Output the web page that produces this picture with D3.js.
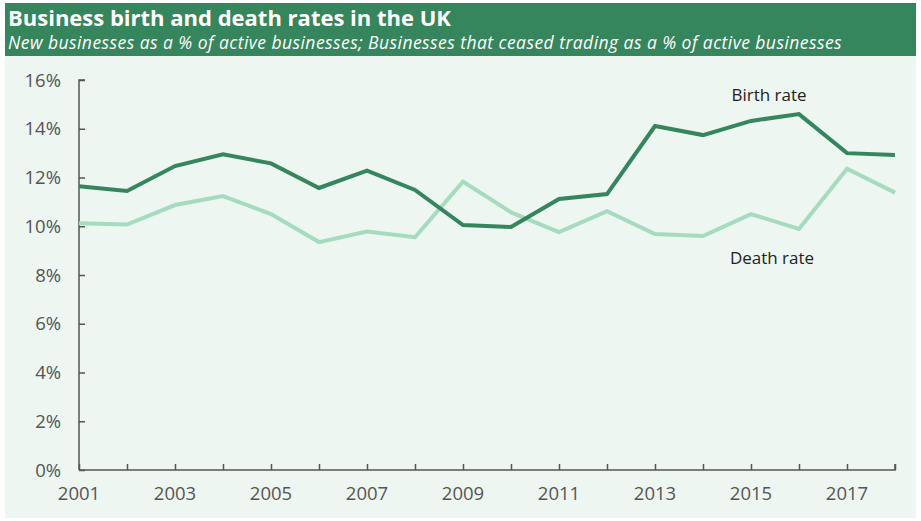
<!DOCTYPE html>
<html><head><meta charset="utf-8">
<script src="https://cdn.jsdelivr.net/npm/d3@7"></script>
<style>
body{margin:0;background:#fff;}
svg{display:block;font-family:"Open Sans","Noto Sans",sans-serif;}
</style></head><body>
<svg id="c" width="921" height="521"></svg>
<script>
const years = [2001,2002,2003,2004,2005,2006,2007,2008,2009,2010,2011,2012,2013,2014,2015,2016,2017,2018];
const birthRate = [11.64,11.45,12.47,12.95,12.58,11.57,12.28,11.49,10.05,9.97,11.12,11.32,14.11,13.74,14.32,14.6,13.0,12.92];
const deathRate = [10.12,10.07,10.87,11.24,10.5,9.35,9.78,9.55,11.83,10.57,9.76,10.62,9.68,9.6,10.5,9.89,12.36,11.38];
const yTicks = [0,2,4,6,8,10,12,14,16];
const xTickLabels = [2001,2003,2005,2007,2009,2011,2013,2015,2017];

const svg = d3.select("#c");
svg.append("rect").attr("x",5).attr("y",3).attr("width",911).attr("height",53).attr("fill","#35855d");
svg.append("rect").attr("x",5).attr("y",56).attr("width",911).attr("height",462).attr("fill","#edf6f1");
svg.append("text").attr("x",8).attr("y",26).attr("fill","#fff").attr("font-size",22).attr("font-weight","bold")
  .text("Business birth and death rates in the UK");
svg.append("text").attr("x",8).attr("y",49).attr("fill","#fff").attr("font-size",17.5).attr("font-style","italic")
  .attr("letter-spacing",0.45)
  .text("New businesses as a % of active businesses; Businesses that ceased trading as a % of active businesses");

const x = d3.scaleLinear().domain([2001,2018]).range([79,895]);
const y = d3.scaleLinear().domain([0,16]).range([470,80]);

const yAxis = svg.append("g").attr("transform","translate(79,0)")
  .call(d3.axisRight(y).tickValues(yTicks).tickSize(6).tickFormat(""));
const xAxis = svg.append("g").attr("transform","translate(0,470)")
  .call(d3.axisTop(x).tickValues(years).tickSize(6).tickFormat(""));
[yAxis,xAxis].forEach(g=>{g.selectAll("path,line").attr("stroke","#555").attr("stroke-width",1.5);});
yAxis.select(".domain").attr("d","M6,80H0V470");
xAxis.select(".domain").attr("d","M79,470H895V464").attr("transform","translate(0,-470)");

svg.append("g").selectAll("text").data(yTicks).join("text")
  .attr("x",61).attr("y",d=>y(d)+6.5).attr("text-anchor","end").attr("fill","#555").attr("font-size",18.5)
  .text(d=>d+"%");
svg.append("g").selectAll("text").data(xTickLabels).join("text")
  .attr("x",d=>x(d)).attr("y",500).attr("text-anchor","middle").attr("fill","#555").attr("font-size",18.5)
  .text(d=>d);

const line = d3.line().x((d,i)=>x(years[i])).y(d=>y(d));
svg.append("path").datum(deathRate).attr("d",line).attr("fill","none").attr("stroke","#a5dbbe").attr("stroke-width",4);
svg.append("path").datum(birthRate).attr("d",line).attr("fill","none").attr("stroke","#35855d").attr("stroke-width",4);

svg.append("text").attr("x",769).attr("y",101).attr("text-anchor","middle").attr("fill","#222").attr("font-size",17).text("Birth rate");
svg.append("text").attr("x",772).attr("y",264).attr("text-anchor","middle").attr("fill","#222").attr("font-size",17).text("Death rate");
</script>
</body></html>
